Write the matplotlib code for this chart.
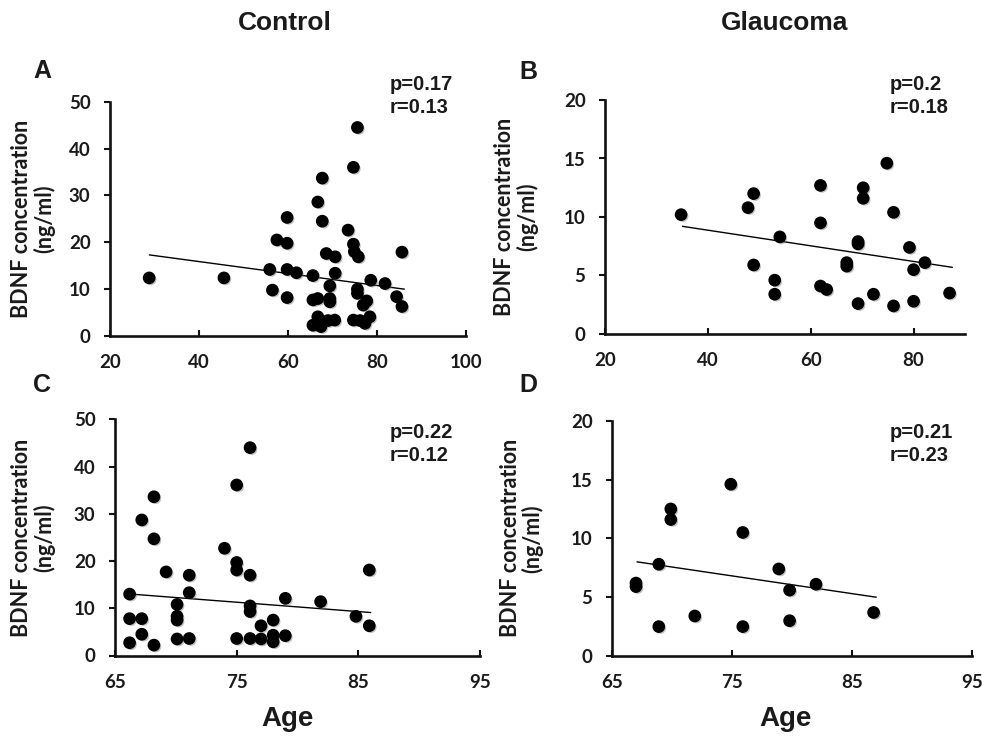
import matplotlib
matplotlib.use("Agg")
import matplotlib.pyplot as plt
import matplotlib.patheffects as pe

# ---------------- data ----------------
age_a = [28.8, 45.6, 55.9, 56.5, 57.5, 59.8, 59.8, 59.8, 59.8, 61.9, 65.6, 65.6,
         66.7, 66.7, 65.6, 67.4, 66.7, 67.7, 67.7, 68.6, 70.6, 70.6, 69.4, 69.4,
         69.4, 69.0, 70.5, 73.5, 74.7, 75.6, 74.7, 74.9, 75.8, 75.6, 75.6, 77.7,
         76.9, 74.7, 76.2, 77.3, 78.4, 78.6, 81.8, 84.4, 85.6, 85.6]
bdnf_a = [12.4, 12.4, 14.2, 9.8, 20.5, 19.8, 25.3, 14.2, 8.2, 13.5, 12.9, 7.7,
          8.0, 4.1, 2.3, 2.0, 28.6, 33.7, 24.5, 17.6, 16.9, 13.4, 10.7, 8.0,
          7.3, 3.3, 3.4, 22.6, 36.0, 44.5, 19.6, 18.0, 16.9, 10.0, 9.1, 7.5,
          6.6, 3.4, 3.3, 2.7, 4.1, 11.9, 11.2, 8.4, 6.3, 17.9]
fit_x_a = [28.9, 86.1]
fit_y_a = [17.3, 10.0]

age_b = [34.8, 47.8, 48.9, 48.9, 54.0, 53.0, 53.0, 61.9, 61.9, 61.9, 63.1, 67.0,
         67.0, 69.2, 69.2, 69.2, 70.2, 70.2, 72.2, 74.8, 76.1, 76.1, 79.2, 80.0,
         80.0, 82.2, 87.0]
bdnf_b = [10.2, 10.8, 12.0, 5.9, 8.3, 4.6, 3.4, 12.7, 9.5, 4.1, 3.8, 6.1,
          5.8, 7.9, 7.7, 2.6, 12.5, 11.6, 3.4, 14.6, 10.4, 2.4, 7.4, 5.5,
          2.8, 6.1, 3.5]
fit_x_b = [35.1, 87.5]
fit_y_b = [9.2, 5.7]

age_c = [66.2, 66.2, 66.2, 67.2, 67.2, 67.2, 68.2, 68.2, 68.2, 69.2, 70.1, 70.1,
         70.1, 70.1, 71.1, 71.1, 71.1, 74.0, 75.0, 75.0, 75.0, 75.0, 76.1, 76.1,
         76.1, 76.1, 76.1, 77.0, 77.0, 78.0, 78.0, 78.0, 79.0, 79.0, 81.9, 84.8,
         85.9, 85.9]
bdnf_c = [13.0, 7.8, 2.7, 28.7, 7.8, 4.5, 33.6, 24.7, 2.2, 17.7, 10.8, 8.3,
          7.5, 3.5, 17.0, 13.3, 3.6, 22.7, 36.1, 19.7, 18.1, 3.6, 44.0, 17.0,
          10.5, 9.3, 3.6, 6.3, 3.5, 7.5, 4.3, 2.9, 12.1, 4.2, 11.4, 8.3,
          18.1, 6.3]
fit_x_c = [65.8, 86.0]
fit_y_c = [13.1, 9.1]

age_d = [67.0, 67.0, 68.9, 68.9, 69.9, 69.9, 71.9, 74.9, 75.9, 75.9, 78.9, 79.8,
         79.8, 82.0, 86.8]
bdnf_d = [6.2, 5.9, 7.8, 2.5, 12.5, 11.6, 3.4, 14.6, 10.5, 2.5, 7.4, 5.6,
          3.0, 6.1, 3.7]
fit_x_d = [67.1, 87.0]
fit_y_d = [8.0, 5.0]

panel_letters = ["A", "B", "C", "D"]
stats = ["p=0.17\nr=0.13", "p=0.2\nr=0.18", "p=0.22\nr=0.12", "p=0.21\nr=0.23"]
group_titles = ["Control", "Glaucoma"]
xticks_top_a = [20, 40, 60, 80, 100]
xticks_top_b = [20, 40, 60, 80]
xticks_bottom = [65, 75, 85, 95]
yticks_control = [0, 10, 20, 30, 40, 50]
yticks_glaucoma = [0, 5, 10, 15, 20]
ylabel_text = "BDNF concentration\n(ng/ml)"
xlabel_text = "Age"

# ---------------- layout ----------------
W, H = 982, 737
fig = plt.figure(figsize=(W / 100, H / 100), dpi=100)

def px_axes(l, t, r, b):
    return fig.add_axes([l / W, 1 - b / H, (r - l) / W, (b - t) / H])

TXT = "#1a1a1a"
tick_font = dict(family="Lato", weight="bold", size=13.5)

panels = [
    dict(box=(110, 101.7, 466, 336), x=age_a, y=bdnf_a, fx=fit_x_a, fy=fit_y_a,
         xlim=(20, 100), xt=xticks_top_a, ylim=(0, 50), yt=yticks_control,
         lab=(-0.155, 0.5)),
    dict(box=(605, 100, 965, 334), x=age_b, y=bdnf_b, fx=fit_x_b, fy=fit_y_b,
         xlim=(20, 90), xt=xticks_top_b, ylim=(0, 20), yt=yticks_glaucoma,
         lab=(-0.185, 0.5)),
    dict(box=(115, 419.3, 480, 655.5), x=age_c, y=bdnf_c, fx=fit_x_c, fy=fit_y_c,
         xlim=(65, 95), xt=xticks_bottom, ylim=(0, 50), yt=yticks_control,
         lab=(-0.165, 0.5)),
    dict(box=(612, 420.7, 972, 656), x=age_d, y=bdnf_d, fx=fit_x_d, fy=fit_y_d,
         xlim=(65, 95), xt=xticks_bottom, ylim=(0, 20), yt=yticks_glaucoma,
         lab=(-0.19, 0.5)),
]

for p in panels:
    ax = px_axes(*p["box"])
    ax.scatter(p["x"], p["y"], s=66, color="black", zorder=3, clip_on=False,
               path_effects=[pe.SimplePatchShadow(offset=(1.2, -1.2),
                                                  shadow_rgbFace="#777777", alpha=0.45),
                             pe.Normal()])
    ax.plot(p["fx"], p["fy"], color="black", lw=1.0, zorder=2)
    ax.set_xlim(*p["xlim"])
    ax.set_ylim(*p["ylim"])
    ax.set_xticks(p["xt"])
    ax.set_yticks(p["yt"])
    for s in ("top", "right"):
        ax.spines[s].set_visible(False)
    for s in ("left", "bottom"):
        ax.spines[s].set_linewidth(1.9)
        ax.spines[s].set_color("#111111")
    ax.tick_params(axis="x", direction="in", length=4, width=1.5, pad=13,
                   colors="#111111", labelcolor=TXT)
    ax.tick_params(axis="y", direction="out", length=4, width=1.5, pad=10,
                   colors="#111111", labelcolor=TXT)
    for lbl in ax.get_xticklabels() + ax.get_yticklabels():
        lbl.set_fontfamily(tick_font["family"])
        lbl.set_fontweight(tick_font["weight"])
        lbl.set_fontsize(tick_font["size"])
    ax.set_ylabel(ylabel_text, family="Lato", weight="bold", fontsize=15.5,
                  color=TXT, linespacing=1.05)
    ax.yaxis.set_label_coords(*p["lab"])
    ax.set_facecolor("none")

# group titles
fig.text(285 / W, 1 - 23 / H, group_titles[0], ha="center", va="center",
         family="Liberation Sans", weight="bold", fontsize=19, color=TXT)
fig.text(785 / W, 1 - 23 / H, group_titles[1], ha="center", va="center",
         family="Liberation Sans", weight="bold", fontsize=19, color=TXT)

# panel letters
letter_pos = [(42, 71), (528, 72), (42, 385), (528, 385)]
for (lx, ly), letter in zip(letter_pos, panel_letters):
    fig.text(lx / W, 1 - ly / H, letter, ha="center", va="center",
             family="Liberation Sans", weight="bold", fontsize=18, color=TXT)

# stats text
stat_pos = [(390, 96), (890, 96), (390, 444), (890, 444)]
for (sx, sy), st in zip(stat_pos, stats):
    fig.text(sx / W, 1 - sy / H, st, ha="left", va="center",
             family="Liberation Sans", weight="bold", fontsize=14.5, color=TXT,
             linespacing=1.25)

# x axis labels
for cx in (287, 786):
    fig.text(cx / W, 1 - 719 / H, xlabel_text, ha="center", va="center",
             family="Liberation Sans", weight="bold", fontsize=20, color=TXT)

fig.savefig("out.png", dpi=100)
